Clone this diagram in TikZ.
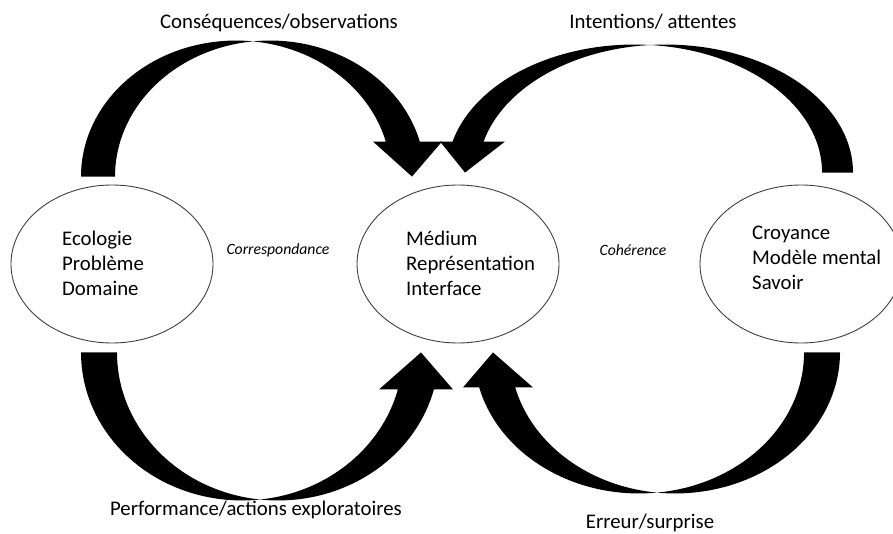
\documentclass[tikz,border=0pt]{standalone}
\usepackage{fontspec}
\setmainfont{Carlito}
\usetikzlibrary{shapes.geometric}

\begin{document}
\begin{tikzpicture}[
            x = 1pt, y = 1pt,
            every node/.style={inner sep=0pt, font=\fontsize{20.8}{25}\selectfont},
            bubble/.style={ellipse, draw=black!75, line width=0.9pt, minimum width=202pt, minimum height=158pt},
            words/.style={align=left, anchor=west},
            note/.style={font=\fontsize{15.7}{19}\selectfont\itshape},
            band/.style={fill=black},
            ]
        \useasboundingbox (0,0) rectangle (893,533);
        \clip (0,0) rectangle (893,533);

        \node[bubble] (eco) at (112,269) {};
        \node[bubble] (med) at (458,269) {};
        \node[bubble] (sav) at (801,269) {};

        \node[words] (ecotxt) at ([shift={(-50,1)}]eco.center) {Ecologie\\Problème\\Domaine};
        \node[words] (medtxt) at ([shift={(-52,1)}]med.center) {Médium\\Représentation\\Interface};
        \node[words] (savtxt) at ([shift={(-49,6)}]sav.center) {Croyance\\Modèle mental\\Savoir};

        \node[note] (corr) at (278,283) {Correspondance};
        \node[note] (coh) at (633,283) {Cohérence};

        \fill[band, x radius=155, y radius=136] ([shift={(-31,8)}]eco.north) arc[start angle=180, end angle=83.7] arc[start angle=96.3, end angle=14.91] --++(22.2,0) --++(-30,-35) --++(-39,35) --++(12.8,0) arc[start angle=14.91, end angle=83.7] arc[start angle=96.3, end angle=180] -- cycle;

        \fill[band, x radius=187.5, y radius=128] ([shift={(52,12)}]sav.north) arc[start angle=0, end angle=94.74] arc[start angle=85.26, end angle=165.98] --++(-12.6,0) --++(25,-31) --++(40,31) --++(-21.4,0) arc[start angle=165.98, end angle=94.74] arc[start angle=85.26, end angle=0] -- cycle;

        \fill[band, x radius=161, y radius=148] ([shift={(-31,-9)}]eco.south) arc[start angle=180, end angle=276.42] arc[start angle=263.58, end angle=345.52] --++(19.1,0) --++(-32,37) --++(-42,-37) --++(18.9,0) arc[start angle=345.52, end angle=276.42] arc[start angle=263.58, end angle=180] -- cycle;

        \fill[band, x radius=165, y radius=141] ([shift={(39,-9)}]sav.south) arc[start angle=360, end angle=263.74] arc[start angle=276.26, end angle=194.37] --++(-16.2,0) --++(30,35) --++(40,-35) --++(-17.8,0) arc[start angle=194.37, end angle=263.74] arc[start angle=276.26, end angle=360] -- cycle;

        \node[anchor=base] (conseq) at (279,504) {Conséquences/observations};
        \node[anchor=base] (intent) at (653,504) {Intentions/ attentes};
        \node[anchor=base] (perf) at (256,18) {Performance/actions exploratoires};
        \node[anchor=base] (err) at (650,5) {Erreur/surprise};

    \end{tikzpicture}
\end{document}
